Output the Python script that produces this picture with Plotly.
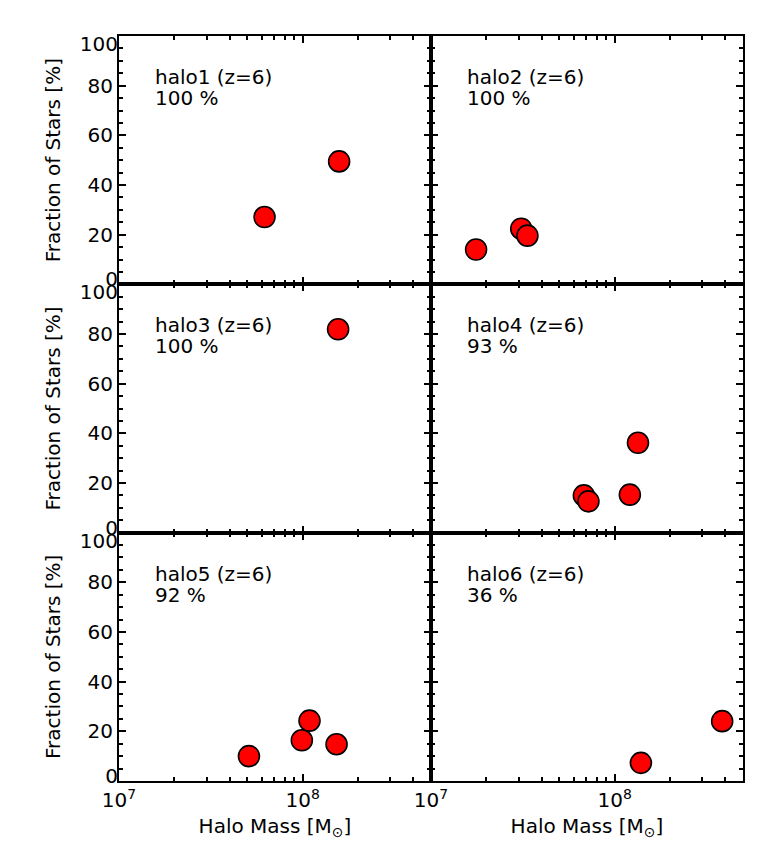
import math
import plotly.graph_objects as go
from plotly.subplots import make_subplots

# ---------------- data ----------------
halo_names = ["halo1", "halo2", "halo3", "halo4", "halo5", "halo6"]
redshift_label = "(z=6)"
halo_percent = ["100 %", "100 %", "100 %", "93 %", "92 %", "36 %"]

halo1_mass = [6.2e7, 1.58e8]
halo1_frac = [27.1, 49.5]
halo2_mass = [1.76e7, 3.1e7, 3.35e7]
halo2_frac = [14.0, 22.4, 19.6]
halo3_mass = [1.56e8]
halo3_frac = [81.9]
halo4_mass = [6.8e7, 7.2e7, 1.21e8, 1.34e8]
halo4_frac = [15.0, 12.6, 15.3, 36.2]
halo5_mass = [5.1e7, 9.9e7, 1.09e8, 1.53e8]
halo5_frac = [10.0, 16.4, 24.3, 14.8]
halo6_mass = [1.39e8, 3.85e8]
halo6_frac = [7.3, 24.1]

x_min, x_max = 1e7, 5e8
y_min, y_max = 0, 100
x_major_ticks = [1e7, 1e8]
x_major_labels = ["10<sup>7</sup>", "10<sup>8</sup>"]
x_minor_ticks = [2e7, 3e7, 4e7, 5e7, 6e7, 7e7, 8e7, 9e7, 2e8, 3e8, 4e8, 5e8]
y_major_ticks = [20, 40, 60, 80]
y_top_tick = [100]
y_bottom_tick = [0]
x_title = "Halo Mass [M<sub>⊙</sub>]"
y_title = "Fraction of Stars [%]"

masses = [halo1_mass, halo2_mass, halo3_mass, halo4_mass, halo5_mass, halo6_mass]
fracs = [halo1_frac, halo2_frac, halo3_frac, halo4_frac, halo5_frac, halo6_frac]

# ---------------- figure ----------------
FONT = "DejaVu Sans"
TICK_FONT = dict(family=FONT, size=20, color="black")
fig = make_subplots(rows=3, cols=2, horizontal_spacing=0, vertical_spacing=0)

for i in range(6):
    r, c = i // 2 + 1, i % 2 + 1
    fig.add_trace(
        go.Scatter(
            x=masses[i], y=fracs[i], mode="markers",
            marker=dict(size=21, color="#ff0000", line=dict(color="black", width=1.6)),
            showlegend=False, hoverinfo="skip",
        ),
        row=r, col=c,
    )

xr = [math.log10(x_min), math.log10(x_max)]
for i in range(6):
    r, c = i // 2 + 1, i % 2 + 1
    fig.update_xaxes(
        type="log", range=xr, tickmode="array", tickvals=x_major_ticks, ticktext=x_major_labels,
        ticks="inside", ticklen=7, tickwidth=2, tickcolor="black",
        showline=True, linewidth=2, linecolor="black", mirror="ticks",
        showgrid=False, zeroline=False,
        minor=dict(tickmode="array", tickvals=x_minor_ticks, ticks="inside", ticklen=4,
                   tickwidth=1.5, tickcolor="black", showgrid=False),
        showticklabels=(r == 3),
        tickfont=TICK_FONT,
        title=dict(text=x_title if r == 3 else "", font=dict(family=FONT, size=20, color="black"),
                   standoff=8),
        row=r, col=c,
    )
    fig.update_yaxes(
        range=[y_min, y_max], tickmode="array", tickvals=y_major_ticks,
        ticks="inside", ticklen=7, tickwidth=2, tickcolor="black",
        showline=True, linewidth=2, linecolor="black", mirror="ticks",
        showgrid=False, zeroline=False,
        minor=dict(dtick=5, ticks="inside", ticklen=4, tickwidth=1.5, tickcolor="black",
                   showgrid=False),
        showticklabels=(c == 1),
        tickfont=TICK_FONT,
        title=dict(text=y_title if c == 1 else "", font=dict(family=FONT, size=20, color="black"),
                   standoff=22),
        row=r, col=c,
    )

# overlay axes carrying the shifted 0 / 100 labels of the left panels
left_axes = [("x", "y"), ("x3", "y3"), ("x5", "y5")]
next_id = 7
for xa, ya in left_axes:
    for vals, shift in ((y_top_tick, 8), (y_bottom_tick, -5)):
        name = f"yaxis{next_id}"
        fig.update_layout({name: dict(
            overlaying=ya, anchor=xa, side="left", range=[y_min, y_max],
            tickmode="array", tickvals=vals, ticks="", showline=False,
            showgrid=False, zeroline=False, ticklabelshift=shift,
            tickfont=TICK_FONT,
        )})
        fig.add_trace(go.Scatter(x=[], y=[], xaxis=xa, yaxis=f"y{next_id}",
                                 showlegend=False, hoverinfo="skip"))
        next_id += 1

# panel labels
for i in range(6):
    xref = "x domain" if i == 0 else f"x{i + 1} domain"
    yref = "y domain" if i == 0 else f"y{i + 1} domain"
    fig.add_annotation(text=f"{halo_names[i]} {redshift_label}", xref=xref, yref=yref,
                       x=0.11, y=1 - 41 / 248, xanchor="left", yanchor="middle",
                       showarrow=False, font=dict(family=FONT, size=20, color="black"))
    fig.add_annotation(text=halo_percent[i], xref=xref, yref=yref,
                       x=0.11, y=1 - 62 / 248, xanchor="left", yanchor="middle",
                       showarrow=False, font=dict(family=FONT, size=20, color="black"))

fig.update_layout(
    width=780, height=857,
    margin=dict(l=119, r=37, t=36, b=76),
    paper_bgcolor="white", plot_bgcolor="white",
    font=dict(family=FONT, color="black"),
    showlegend=False,
)

fig.write_html("out.html")
